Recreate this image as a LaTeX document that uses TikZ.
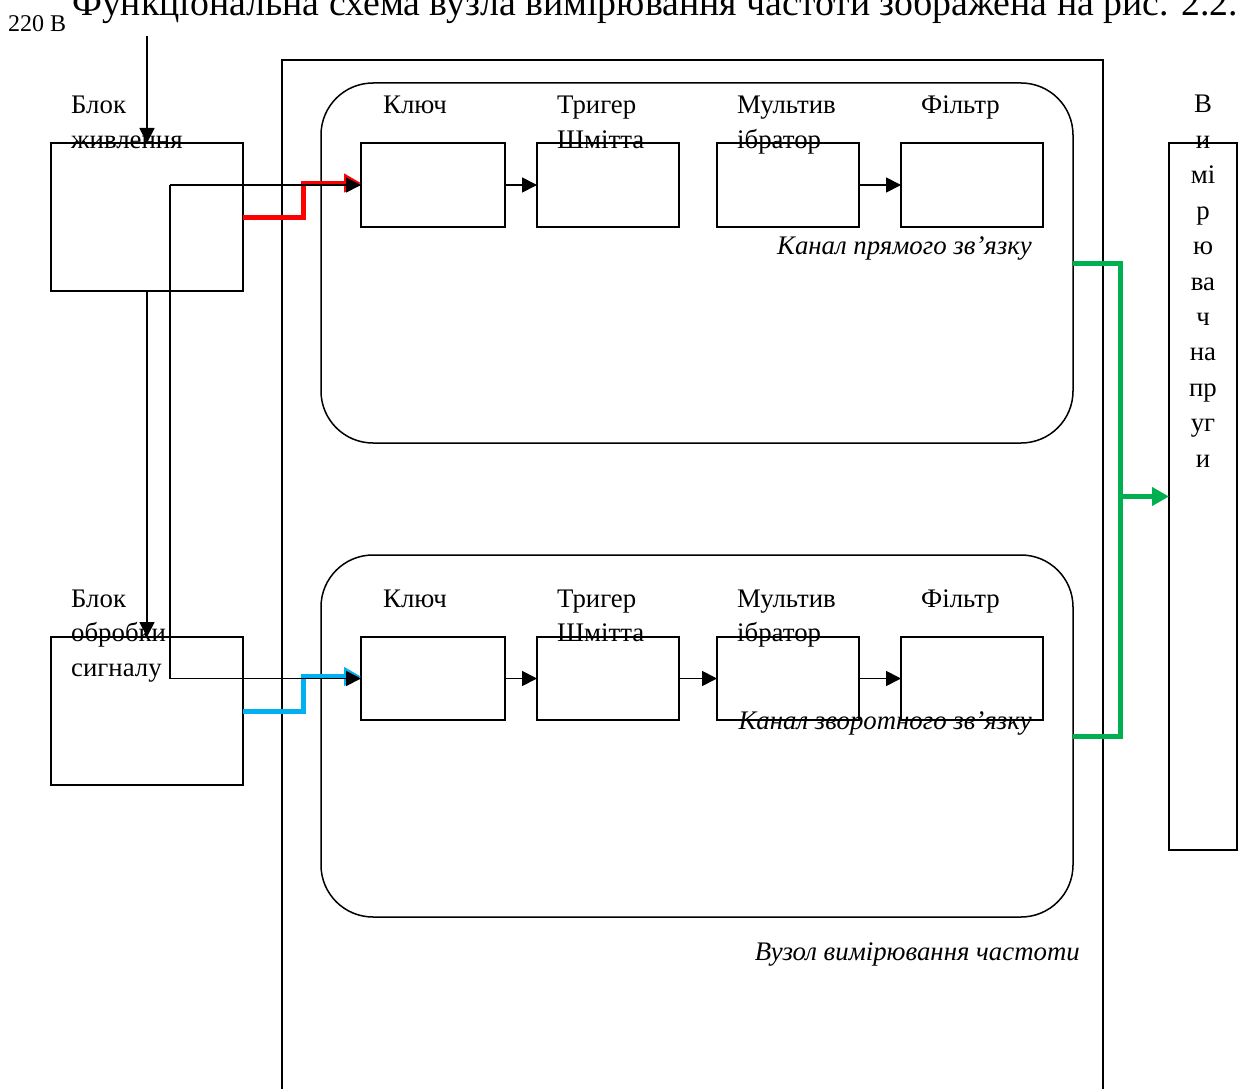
\documentclass[tikz,border=0pt]{standalone}
\usepackage{fontspec}
\setmainfont{Liberation Serif}
\usetikzlibrary{arrows.meta}
\definecolor{sred}{RGB}{255,0,0}
\definecolor{sblue}{RGB}{0,176,240}
\definecolor{sgreen}{RGB}{0,176,80}
\newcommand\labfont{\fontsize{26.8}{32}\selectfont}
\newcommand\smlfont{\fontsize{24}{29}\selectfont}
\newcommand\ttlfont{\fontsize{37.8}{44}\selectfont}
\begin{document}
\begin{tikzpicture}[x=1pt,y=-1pt,
  box/.style={draw, line width=1.8pt, inner sep=0pt, outer sep=0pt},
  rbox/.style={draw, line width=1.5pt, inner sep=0pt, outer sep=0pt, rounded corners=52pt},
  lbl/.style={anchor=base west, inner sep=0pt, font=\labfont},
  ilbl/.style={anchor=base east, inner sep=0pt, font=\labfont\itshape},
  vlbl/.style={anchor=base, inner sep=0pt, font=\labfont},
  arr/.style={line width=1.8pt, -{Triangle[length=15pt,width=15pt]}},
  redline/.style={draw=sred, line width=5pt, -{Triangle[length=17pt,width=18pt]}, sred},
  blueline/.style={draw=sblue, line width=5pt, -{Triangle[length=17pt,width=18pt]}, sblue},
  greenline/.style={draw=sgreen, line width=5pt},
  greenarr/.style={draw=sgreen, line width=5pt, -{Triangle[length=17pt,width=18pt]}, sgreen}
]
\useasboundingbox (0,0) rectangle (1245,1089);
\clip (0,0) rectangle (1245,1089);
\fill[white] (0,0) rectangle (1245,1089);

% title and supply
\node[anchor=base west, inner sep=0pt, font=\ttlfont] (title) at (72,15.5) {Функціональна схема вузла вимірювання частоти зображена на рис. 2.2.};
\node[anchor=base west, inner sep=0pt, font=\smlfont] (v220) at (8,32) {220 В};

% main frame
\node[box, minimum width=821pt, minimum height=1040pt] (big) at (692.5,580) {};
\node[rbox, minimum width=752pt, minimum height=360pt] (rr1) at (697,263) {};
\node[rbox, minimum width=752pt, minimum height=362pt] (rr2) at (697,736) {};

% left blocks
\node[box, minimum width=192pt, minimum height=148pt] (pw) at (147,217) {};
\node[box, minimum width=192pt, minimum height=148pt] (sp) at (147,711) {};

% row 1
\node[box, minimum width=144pt, minimum height=84pt] (k1) at (433,185) {};
\node[box, minimum width=142pt, minimum height=84pt] (t1) at (608,185) {};
\node[box, minimum width=142pt, minimum height=84pt] (m1) at (788,185) {};
\node[box, minimum width=142pt, minimum height=84pt] (f1) at (972,185) {};
% row 2
\node[box, minimum width=144pt, minimum height=83pt] (k2) at (433,678.5) {};
\node[box, minimum width=142pt, minimum height=83pt] (t2) at (608,678.5) {};
\node[box, minimum width=142pt, minimum height=83pt] (m2) at (788,678.5) {};
\node[box, minimum width=142pt, minimum height=83pt] (f2) at (972,678.5) {};

% measuring device
\node[box, minimum width=68pt, minimum height=707pt] (meas) at (1203,496.5) {};

% coloured links (under black)
\draw[redline] (pw.east) -- ++(60,0) |- ([yshift=2pt]k1.west);
\draw[blueline] (sp.east) -- ++(60,0) |- ([yshift=2pt]k2.west);
\draw[greenline] (rr1.east) -- ++(47,0) coordinate (gt) |- (rr2.east);
\coordinate (gm) at (1120,496.5);
\draw[greenarr] (gm) -- (meas.west);

% black links
\coordinate (vin) at (147,36);
\draw[arr] (vin) -- (pw.north);
\draw[arr] (pw.south) -- (sp.north);
\coordinate (ja) at (170,185);
\coordinate (jb) at (170,678.5);
\draw[arr] (ja) -- (k1.west);
\draw[arr] (ja) -- (jb) -- (k2.west);
\draw[arr] (k1.east) -- (t1.west);
\draw[arr] (m1.east) -- (f1.west);
\draw[arr] (k2.east) -- (t2.west);
\draw[arr] (t2.east) -- (m2.west);
\draw[arr] (m2.east) -- (f2.west);

% labels
\node[lbl] at (71,114) {Блок};
\node[lbl] at (71,148.5) {живлення};
\node[lbl] at (71,607) {Блок};
\node[lbl] at (71,641.5) {обробки};
\node[lbl] at (71,676) {сигналу};

\node[lbl] at (383,114) {Ключ};
\node[lbl] at (557,114) {Тригер};
\node[lbl] at (557,148.5) {Шмітта};
\node[lbl] at (737,114) {Мультив};
\node[lbl] at (737,148.5) {ібратор};
\node[lbl] at (921,114) {Фільтр};

\node[lbl] at (383,607) {Ключ};
\node[lbl] at (557,607) {Тригер};
\node[lbl] at (557,641.5) {Шмітта};
\node[lbl] at (737,607) {Мультив};
\node[lbl] at (737,641.5) {ібратор};
\node[lbl] at (921,607) {Фільтр};

\node[ilbl] at (1032,254) {Канал прямого зв’язку};
\node[ilbl] at (1032,729) {Канал зворотного зв’язку};
\node[ilbl] at (1080,960) {Вузол вимірювання частоти};

\foreach \t [count=\i from 0] in {В,и,мі,р,ю,ва,ч,на,пр,уг,и}{
  \node[vlbl] at (1203,113+35.4*\i) {\t};
}
\end{tikzpicture}
\end{document}
